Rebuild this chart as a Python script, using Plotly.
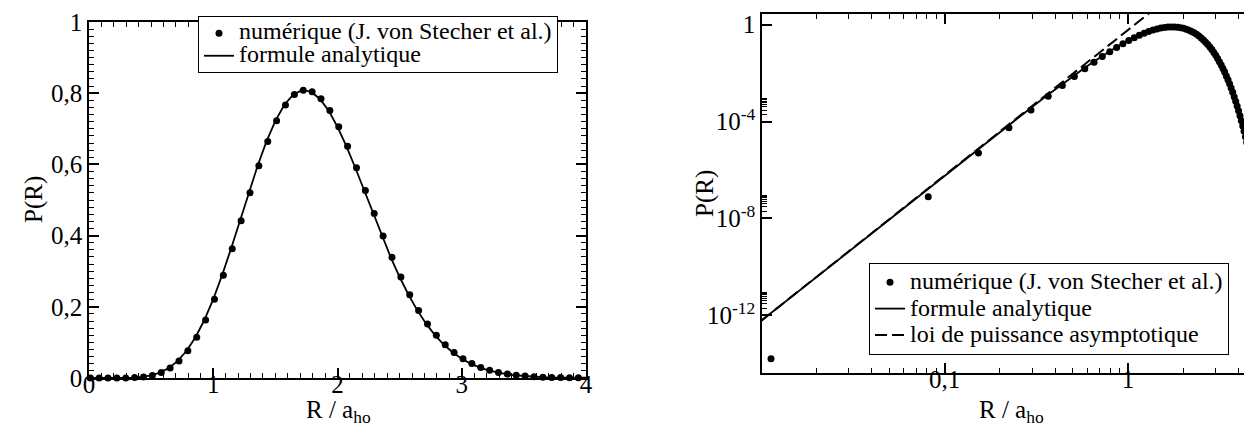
import plotly.graph_objects as go

FONT = '"Liberation Serif", "Times New Roman", Times, serif'

# numerical points (J. von Stecher et al.)
R_NUM = [0.0113, 0.0814, 0.1529, 0.2243, 0.2957, 0.3671, 0.4386, 0.5100, 0.5814, 0.6529,
         0.7243, 0.7957, 0.8671, 0.9386, 1.0100, 1.0814, 1.1529, 1.2243, 1.2957, 1.3671,
         1.4386, 1.5100, 1.5814, 1.6529, 1.7243, 1.7957, 1.8671, 1.9386, 2.0100, 2.0814,
         2.1529, 2.2243, 2.2957, 2.3671, 2.4386, 2.5100, 2.5814, 2.6529, 2.7243, 2.7957,
         2.8671, 2.9386, 3.0100, 3.0814, 3.1529, 3.2243, 3.2957, 3.3671, 3.4386, 3.5100,
         3.5814, 3.6529, 3.7243, 3.7957, 3.8671, 3.9386, 4.0100, 4.0814, 4.1529, 4.2243,
         4.2957, 4.3671, 4.4386, 4.5100, 4.5814, 4.6529, 4.7243, 4.7957, 4.8671, 4.9386]
P_NUM = [1.6e-14, 7.95e-8, 5.012e-6, 5.565e-5, 3.017e-4, 1.0993e-3, 3.1033e-3, 7.3232e-3,
         0.015116, 0.028097, 0.047986, 0.076375, 0.11447, 0.16289, 0.22139, 0.28886,
         0.36325, 0.44156, 0.52048, 0.59606, 0.66452, 0.72249, 0.76683, 0.79603, 0.80838,
         0.80423, 0.78463, 0.75111, 0.70543, 0.65103, 0.59051, 0.52660, 0.46197, 0.39884,
         0.33894, 0.28364, 0.23381, 0.18988, 0.15198, 0.11991, 0.09328, 0.071557, 0.054142,
         0.040409, 0.029761, 0.021627, 0.015510, 0.010980, 7.6729e-3, 5.2935e-3, 3.6061e-3,
         2.4257e-3, 1.6114e-3, 1.0573e-3, 6.8521e-4, 4.3860e-4, 2.7740e-4, 1.7332e-4,
         1.0699e-4, 6.526e-5, 3.9333e-5, 2.3427e-5, 1.3788e-5, 8.0215e-6, 4.6121e-6,
         2.6211e-6, 1.4722e-6, 8.1745e-7, 4.4868e-7, 2.4345e-7]

# analytic formula
R_ANA = [0.01, 0.0714, 0.1429, 0.2143, 0.2857, 0.3571, 0.4286, 0.5, 0.5714, 0.6429, 0.7143,
         0.7857, 0.8571, 0.9286, 1.0, 1.0714, 1.1429, 1.2143, 1.2857, 1.3571, 1.4286, 1.5,
         1.5714, 1.6429, 1.7143, 1.7857, 1.8571, 1.9286, 2.0, 2.0714, 2.1429, 2.2143, 2.2857,
         2.3571, 2.4286, 2.5, 2.5714, 2.6429, 2.7143, 2.7857, 2.8571, 2.9286, 3.0, 3.0714,
         3.1429, 3.2143, 3.2857, 3.3571, 3.4286, 3.5, 3.5714, 3.6429, 3.7143, 3.7857, 3.8571,
         3.9286, 4.0, 4.0714, 4.1429, 4.2143, 4.2857, 4.3571, 4.4286, 4.5, 4.5714, 4.6429,
         4.7143, 4.7857, 4.8571, 4.9286, 5.0, 5.0714, 5.1429, 5.2143, 5.2857]
P_ANA = [6.02e-13, 7.95e-8, 5.012e-6, 5.565e-5, 3.017e-4, 1.0993e-3, 3.1033e-3, 7.3232e-3,
         0.015116, 0.028097, 0.047986, 0.076375, 0.11447, 0.16289, 0.22139, 0.28886,
         0.36325, 0.44156, 0.52048, 0.59606, 0.66452, 0.72249, 0.76683, 0.79603, 0.80838,
         0.80423, 0.78463, 0.75111, 0.70543, 0.65103, 0.59051, 0.52660, 0.46197, 0.39884,
         0.33894, 0.28364, 0.23381, 0.18988, 0.15198, 0.11991, 0.09328, 0.071557, 0.054142,
         0.040409, 0.029761, 0.021627, 0.015510, 0.010980, 7.6729e-3, 5.2935e-3, 3.6061e-3,
         2.4257e-3, 1.6114e-3, 1.0573e-3, 6.8521e-4, 4.3860e-4, 2.7740e-4, 1.7332e-4,
         1.0699e-4, 6.526e-5, 3.9333e-5, 2.3427e-5, 1.3788e-5, 8.0215e-6, 4.6121e-6,
         2.6211e-6, 1.4722e-6, 8.1745e-7, 4.4868e-7, 2.4345e-7, 1.3059e-7, 6.9253e-8,
         3.6310e-8, 1.8823e-8, 9.648e-9]

# asymptotic power law
R_POW = [0.01, 2.0]
P_POW = [6.018e-13, 38.52]

# ticks
LIN_X_TICKS = [0, 1, 2, 3, 4]
LIN_Y_TICKS = [0, 0.2, 0.4, 0.6, 0.8, 1]
LOG_X_TICKS = [0.1, 1]
LOG_X_TEXT = ["0,1", "1"]
LOG_X_MINOR = [0.02, 0.03, 0.04, 0.05, 0.06, 0.07, 0.08, 0.09,
               0.2, 0.3, 0.4, 0.5, 0.6, 0.7, 0.8, 0.9, 2, 3, 4, 5]
LOG_Y_TICKS = [1, 1e-4, 1e-8, 1e-12]
LOG_Y_TEXT = ["1", "10<sup>-4</sup>", "10<sup>-8</sup>", "10<sup>-12</sup>"]
LOG_Y_MINOR = [m * 10.0 ** e for e in (-12, -8, -4) for m in range(2, 10)]

NAMES = ["numérique (J. von Stecher et al.)", "formule analytique",
         "loi de puissance asymptotique"]
X_TITLE = "R / a<sub>ho</sub>"
Y_TITLE = "P(R)"


def big(name):
    # larger text than the legend font, so rows stay tight
    return '<span style="font-size:24px">%s</span>' % name


fig = go.Figure()
n_left = 57
fig.add_trace(go.Scatter(x=R_NUM[:n_left], y=P_NUM[:n_left], mode="markers",
                         marker=dict(color="black", size=7), name=big(NAMES[0]),
                         cliponaxis=False, xaxis="x", yaxis="y", legend="legend"))
fig.add_trace(go.Scatter(x=R_ANA, y=P_ANA, mode="lines",
                         line=dict(color="black", width=1.8), name=big(NAMES[1]),
                         xaxis="x", yaxis="y", legend="legend"))
fig.add_trace(go.Scatter(x=R_NUM, y=P_NUM, mode="markers",
                         marker=dict(color="black", size=7), name=big(NAMES[0]),
                         cliponaxis=False, xaxis="x2", yaxis="y2", legend="legend2"))
fig.add_trace(go.Scatter(x=R_ANA, y=P_ANA, mode="lines",
                         line=dict(color="black", width=1.8), name=big(NAMES[1]),
                         xaxis="x2", yaxis="y2", legend="legend2"))
fig.add_trace(go.Scatter(x=R_POW, y=P_POW, mode="lines",
                         line=dict(color="black", width=2, dash="12px,5px"),
                         name=big(NAMES[2]), xaxis="x2", yaxis="y2", legend="legend2"))

tickfont = dict(family=FONT, size=25, color="black")
axis = dict(showline=True, linecolor="black", linewidth=1.5, mirror="ticks",
            ticks="inside", ticklen=10, tickwidth=1.5, tickcolor="black",
            showgrid=False, zeroline=False, tickfont=tickfont, automargin=False)
minor = dict(ticks="inside", ticklen=5, tickwidth=1, tickcolor="black", showgrid=False)
title_font = dict(family=FONT, size=25, color="black")

W, H = 1252, 429


def label(text, x, y, angle=0, yanchor="middle"):
    return dict(text=text, textangle=angle, x=x / W, y=(H - y) / H, xref="paper",
                yref="paper", xanchor="center", yanchor=yanchor, showarrow=False,
                font=title_font)


fig.update_layout(
    width=W, height=H, margin=dict(l=0, r=0, t=0, b=0),
    paper_bgcolor="white", plot_bgcolor="white", separators=", ",
    font=dict(family=FONT, color="black"),
    xaxis=dict(axis, domain=[81 / W, 578 / W], range=[0, 4], tickvals=LIN_X_TICKS,
               ticklabelstandoff=-17, minor=dict(minor, dtick=0.1, tick0=0)),
    yaxis=dict(axis, domain=[(H - 370) / H, (H - 14) / H], range=[0, 1],
               tickvals=LIN_Y_TICKS, minor=dict(minor, dtick=0.02, tick0=0)),
    xaxis2=dict(axis, type="log", domain=[754 / W, 1.0], range=[-1.996, 0.72],
                tickvals=LOG_X_TICKS, ticktext=LOG_X_TEXT, anchor="y2",
                ticklabelstandoff=-17,
                minor=dict(minor, tickmode="array", tickvals=LOG_X_MINOR)),
    yaxis2=dict(axis, type="log", domain=[(H - 365) / H, (H - 6) / H],
                range=[-14.38, 0.44], tickvals=LOG_Y_TICKS, ticktext=LOG_Y_TEXT,
                anchor="x2", minor=dict(minor, tickmode="array", tickvals=LOG_Y_MINOR)),
    legend=dict(x=190 / W, y=(H - 8) / H, xanchor="left", yanchor="top",
                bordercolor="black", borderwidth=1, bgcolor="white",
                font=dict(family=FONT, size=15, color="black")),
    legend2=dict(x=861 / W, y=(H - 255) / H, xanchor="left", yanchor="top",
                 bordercolor="black", borderwidth=1, bgcolor="white",
                 font=dict(family=FONT, size=18, color="black")),
    annotations=[
        label(Y_TITLE, 26, 192, angle=-90),
        label(Y_TITLE, 697, 186, angle=-90),
        label(X_TITLE, 330, 386, yanchor="top"),
        label(X_TITLE, 1003, 386, yanchor="top"),
    ],
)

fig.write_html("out.html")
